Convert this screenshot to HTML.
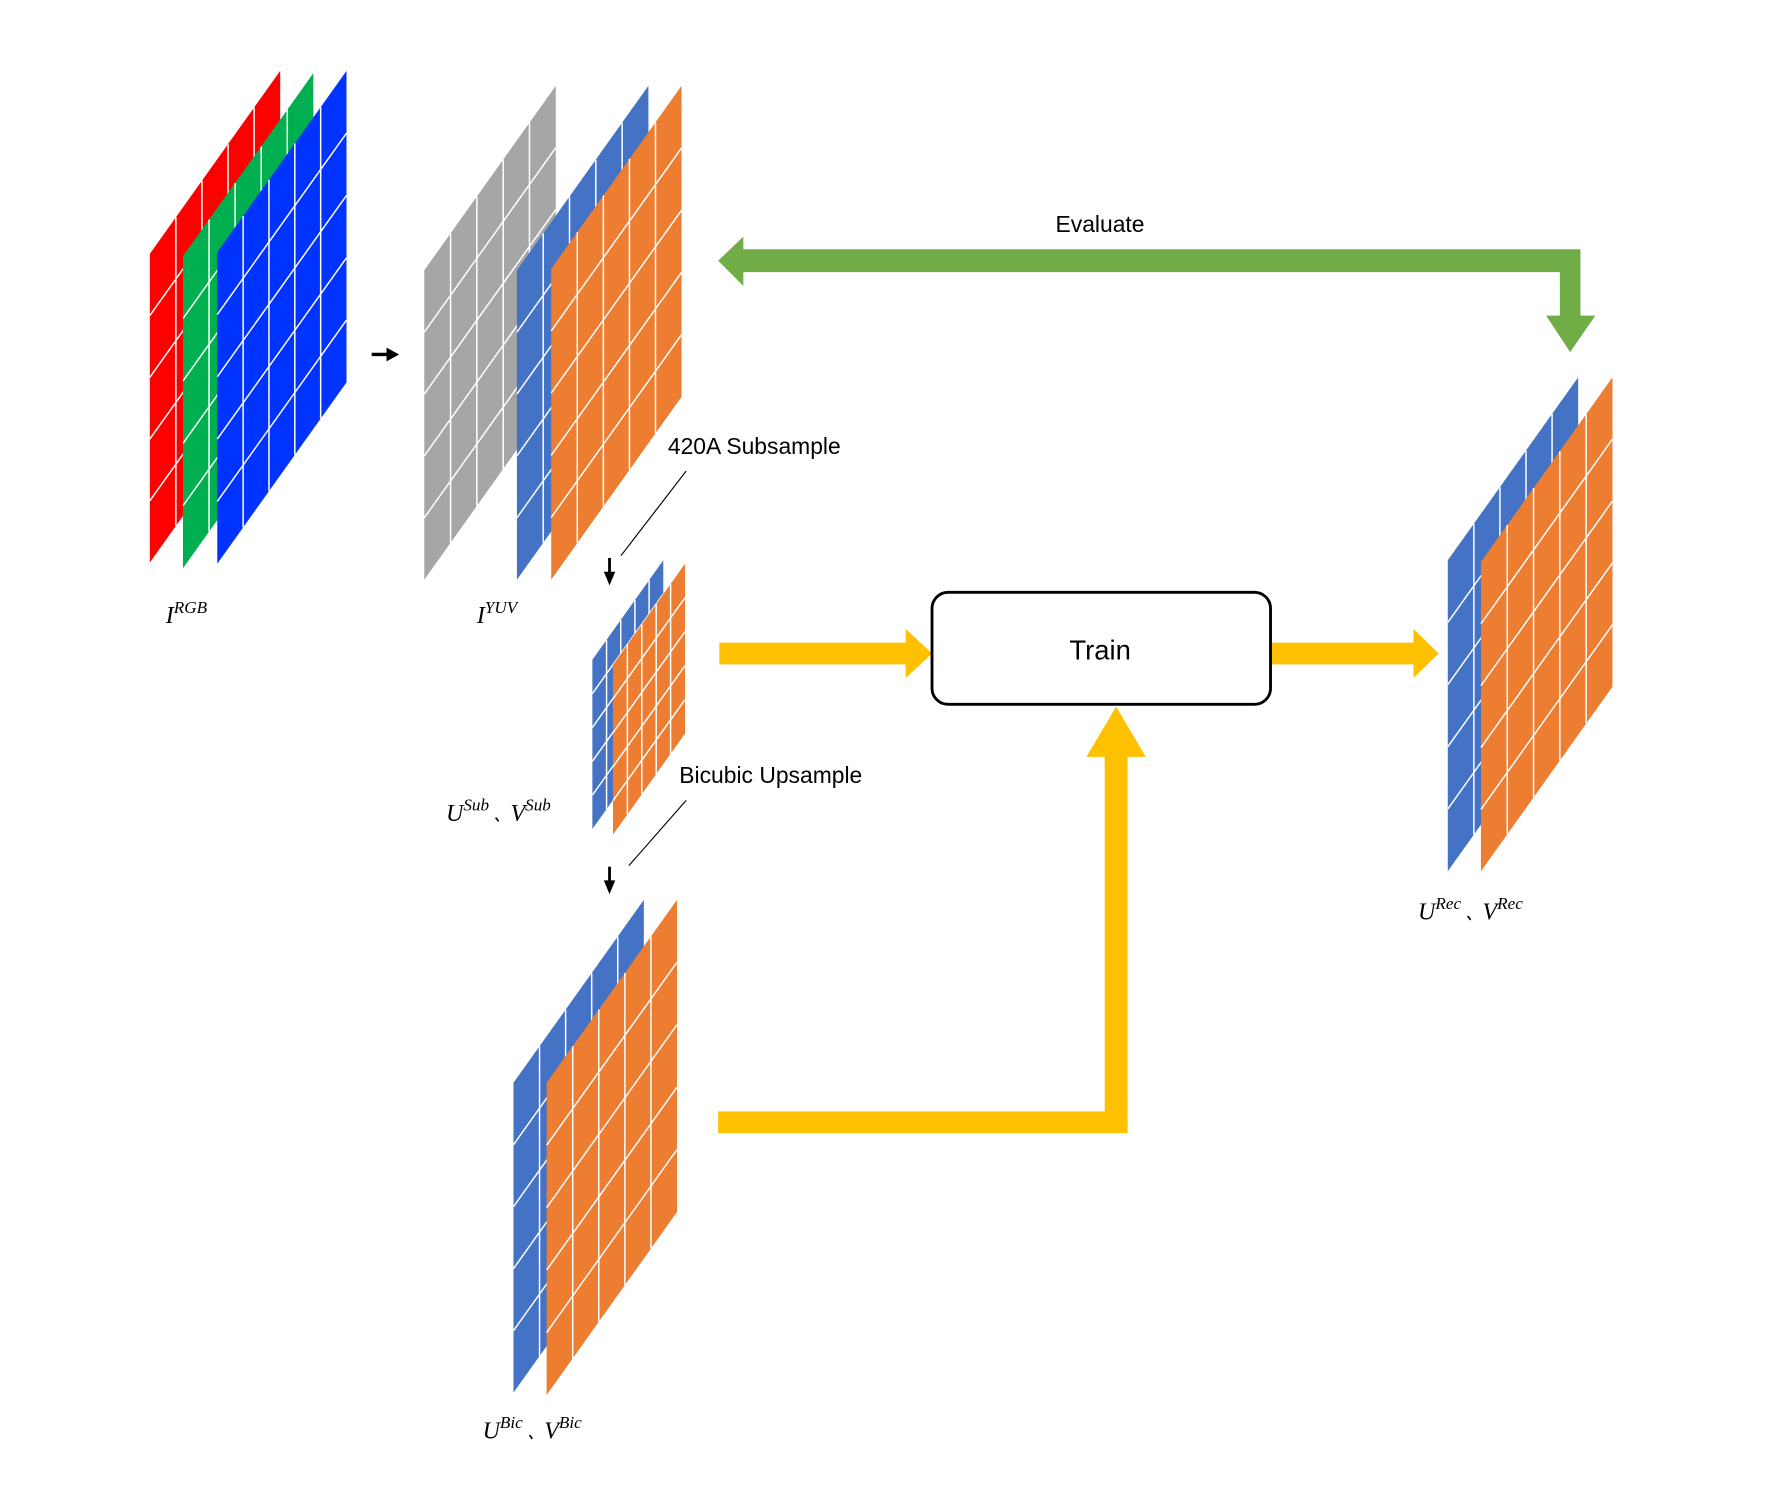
<!DOCTYPE html>
<html><head><meta charset="utf-8"><style>
html,body{margin:0;padding:0;background:#fff;}
svg{display:block;}
text{font-family:"Liberation Sans",sans-serif;}
.m{font-family:"Liberation Serif",serif;font-style:italic;}
</style></head><body>
<svg id="s" width="1792" height="1507" viewBox="0 0 1567 1318" preserveAspectRatio="none" xmlns="http://www.w3.org/2000/svg">
<g id="panels"></g>
<text class="m" x="145" y="545" font-size="21">I<tspan font-size="15" dy="-9">RGB</tspan></text>
<text class="m" x="417" y="545" font-size="21">I<tspan font-size="15" dy="-9">YUV</tspan></text>
<text class="m" x="390" y="718" font-size="21">U<tspan font-size="15" dy="-9">Sub</tspan><tspan dy="9" font-size="15"> 、</tspan>V<tspan font-size="15" dy="-9">Sub</tspan></text>
<text class="m" x="422" y="1258" font-size="21">U<tspan font-size="15" dy="-9">Bic</tspan><tspan dy="9" font-size="15"> 、</tspan>V<tspan font-size="15" dy="-9">Bic</tspan></text>
<text class="m" x="1240" y="804" font-size="21">U<tspan font-size="15" dy="-9">Rec</tspan><tspan dy="9" font-size="15"> 、</tspan>V<tspan font-size="15" dy="-9">Rec</tspan></text>
<line x1="325" y1="310" x2="340" y2="310" stroke="#000" stroke-width="3"/>
<polygon points="338,304 349,310 338,316" fill="#000"/>
<line x1="533" y1="488" x2="533" y2="502" stroke="#000" stroke-width="2.5"/>
<polygon points="528,500 533,512 538,500" fill="#000"/>
<line x1="533" y1="758" x2="533" y2="772" stroke="#000" stroke-width="2.5"/>
<polygon points="528,770 533,782 538,770" fill="#000"/>
<line x1="600" y1="412" x2="543" y2="486" stroke="#000" stroke-width="1"/>
<line x1="600" y1="700" x2="550" y2="757" stroke="#000" stroke-width="1"/>
<text x="584" y="397" font-size="20">420A Subsample</text>
<text x="594" y="685" font-size="20">Bicubic Upsample</text>
<text x="923" y="203" font-size="20">Evaluate</text>
<polygon fill="#70ad47" points="628,228 650,207 650,218 1382,218 1382,276 1395,276 1373,308 1352,276 1364,276 1364,238 650,238 650,250"/>
<polygon fill="#ffc000" points="629,562 792,562 792,550 815,571.5 792,593 792,581 629,581"/>
<polygon fill="#ffc000" points="1112,562 1236,562 1236,550 1258,571.5 1236,593 1236,581 1112,581"/>
<polygon fill="#ffc000" points="628,972 966,972 966,662 950,662 976,618 1002,662 986,662 986,991 628,991"/>
<rect x="815" y="518" width="296" height="98" rx="14" fill="#fff" stroke="#000" stroke-width="2.5"/>
<text x="962" y="577" font-size="24" text-anchor="middle">Train</text>
</svg>
<script>
var g=document.getElementById('panels');var NS='http://www.w3.org/2000/svg';
function panel(xl,xr,ytr,ybl,col,n){
 var w=xr-xl, drop=w*160/114, ytl=ytr+drop, h=ybl-ytl, ybr=ytr+h;
 var p=document.createElementNS(NS,'polygon');
 p.setAttribute('points',xl+','+ytl+' '+xr+','+ytr+' '+xr+','+ybr+' '+xl+','+ybl);
 p.setAttribute('fill',col);g.appendChild(p);
 for(var i=1;i<n;i++){var x=xl+w*i/n,yt=ytl-drop*i/n;
  var l=document.createElementNS(NS,'line');l.setAttribute('x1',x);l.setAttribute('x2',x);l.setAttribute('y1',yt);l.setAttribute('y2',yt+h);
  l.setAttribute('stroke','#fff');l.setAttribute('stroke-width',1.3);g.appendChild(l);}
 for(var j=1;j<n;j++){var y=ytl+h*j/n;
  var l=document.createElementNS(NS,'line');l.setAttribute('x1',xl);l.setAttribute('x2',xr);l.setAttribute('y1',y);l.setAttribute('y2',y-drop);
  l.setAttribute('stroke','#fff');l.setAttribute('stroke-width',1.3);g.appendChild(l);}
}
panel(131,245,62,492,'#ff0000',5);
panel(160,274,64,497,'#00b050',5);
panel(190,303,62,493,'#0033ff',5);
panel(371,486,75,507,'#a6a6a6',5);
panel(452,567,75,507,'#4472c4',5);
panel(482,596,75,507,'#ed7d31',5);
panel(518,580,490,725,'#4472c4',5);
panel(536,599,493,730,'#ed7d31',5);
panel(449,563,787,1218,'#4472c4',5);
panel(478,592,787,1220,'#ed7d31',5);
panel(1266,1380,330,762,'#4472c4',5);
panel(1295,1410,330,762,'#ed7d31',5);
</script>
</body></html>
